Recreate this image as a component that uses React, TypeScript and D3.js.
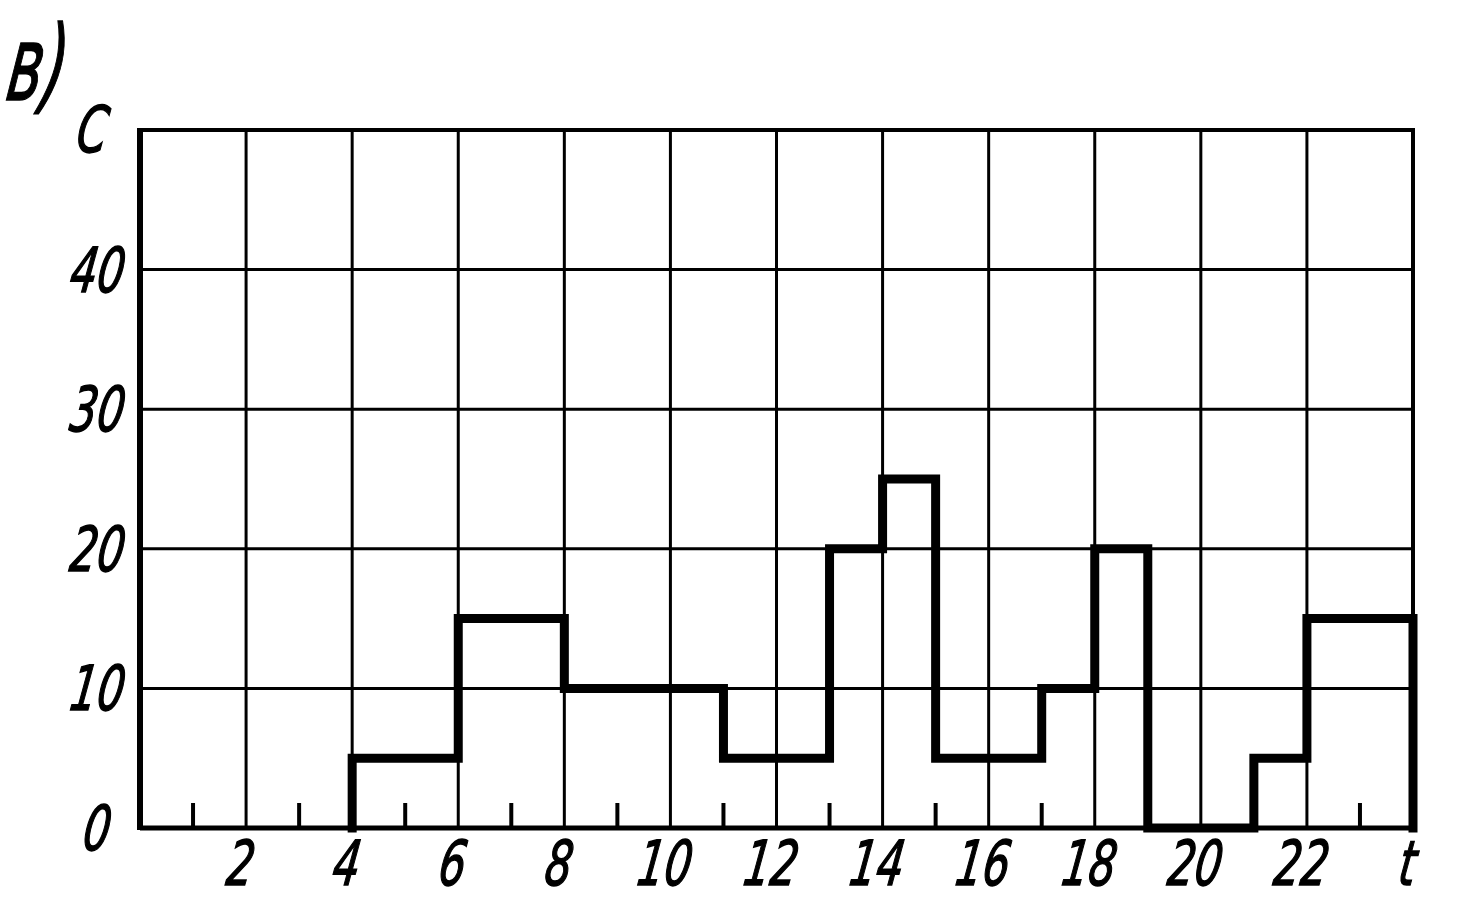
import React from "react";
import * as d3 from "d3";

const xTicks = [2, 4, 6, 8, 10, 12, 14, 16, 18, 20, 22];
const xMinorTicks = [1, 3, 5, 7, 9, 11, 13, 15, 17, 19, 21, 23];
const yTicks = [0, 10, 20, 30, 40];
const xGrid = [2, 4, 6, 8, 10, 12, 14, 16, 18, 20, 22];
const yGrid = [10, 20, 30, 40];
const stepT = [4, 4, 6, 8, 11, 13, 14, 15, 17, 18, 19, 21, 22, 24, 24];
const stepC = [0, 5, 15, 10, 5, 20, 25, 5, 10, 20, 0, 5, 15, 15, 0];

const W = 1484;
const H = 901;
const left = 140;
const right = 1413;
const top = 130;
const bottom = 828;

const font = "'DejaVu Sans', sans-serif";

function Label(props: { x: number; y: number; size: number; anchor?: string; sx?: number; children: React.ReactNode }) {
  const { x, y, size, anchor = "middle", sx = 0.68, children } = props;
  return (
    <text
      transform={`translate(${x},${y}) skewX(-8) scale(${sx},1)`}
      textAnchor={anchor as any}
      fontFamily={font}
      fontStyle="italic"
      fontSize={size}
      fill="#000"
      stroke="#000"
      strokeWidth={1.5}
    >
      {children}
    </text>
  );
}

export default function App() {
  const x = d3.scaleLinear().domain([0, 24]).range([left, right]);
  const y = d3.scaleLinear().domain([0, 50]).range([bottom, top]);
  const pts: [number, number][] = stepT.map((t, i) => [t, stepC[i]]);
  const line = d3
    .line<[number, number]>()
    .x((d) => x(d[0]))
    .y((d) => y(d[1]))
    .curve(d3.curveStepAfter);
  return (
    <svg
      width={W}
      height={H}
      style={{ position: "absolute", left: 0, top: 0, background: "#fff" }}
    >
      <rect x={0} y={0} width={W} height={H} fill="#fff" />
      {xGrid.map((g) => (
        <line key={"vx" + g} x1={x(g)} x2={x(g)} y1={y(50)} y2={y(0)} stroke="#000" strokeWidth={3} />
      ))}
      {yGrid.map((g) => (
        <line key={"hy" + g} x1={x(0)} x2={x(24)} y1={y(g)} y2={y(g)} stroke="#000" strokeWidth={3} />
      ))}
      <line x1={x(0)} x2={x(24)} y1={y(50)} y2={y(50)} stroke="#000" strokeWidth={4} />
      <line x1={x(0)} x2={x(0)} y1={y(50) - 2} y2={y(0) + 2} stroke="#000" strokeWidth={6} />
      <line x1={x(24)} x2={x(24)} y1={y(50) - 2} y2={y(0)} stroke="#000" strokeWidth={4} />
      <line x1={x(0)} x2={x(24)} y1={y(0)} y2={y(0)} stroke="#000" strokeWidth={5} />
      {xMinorTicks.map((t) => (
        <line key={"mt" + t} x1={x(t)} x2={x(t)} y1={y(0)} y2={y(0) - 25} stroke="#000" strokeWidth={4} />
      ))}
      <path d={line(pts) || ""} fill="none" stroke="#000" strokeWidth={9} strokeLinejoin="miter" strokeLinecap="square" />
      {yTicks.map((t) => (
        <Label key={"yl" + t} x={t === 0 ? 108 : 122} y={y(t) + 22} size={62} anchor="end">
          {t}
        </Label>
      ))}
      {xTicks.map((t) => (
        <Label key={"xl" + t} x={x(t) - 8} y={885} size={62}>
          {t}
        </Label>
      ))}
      <Label x={x(24) - 8} y={885} size={62}>t</Label>
      <Label x={90} y={152} size={64}>C</Label>
      <Label x={4} y={100} size={104} anchor="start" sx={0.58}>в)</Label>
    </svg>
  );
}
